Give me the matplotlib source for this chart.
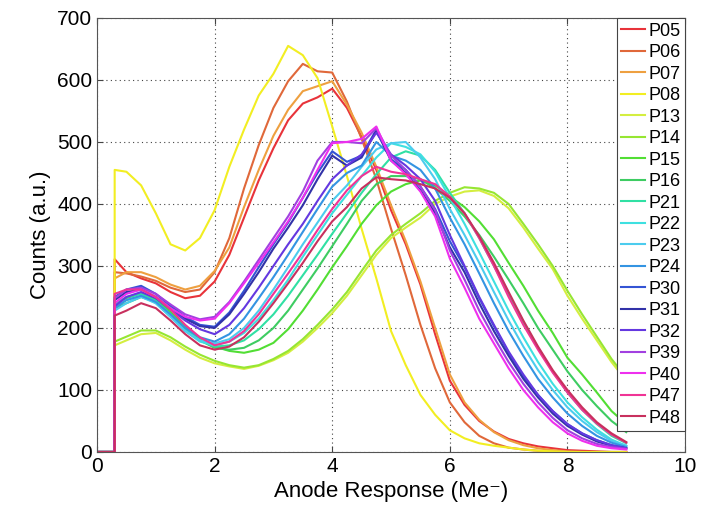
import matplotlib
matplotlib.use('Agg')
import matplotlib.pyplot as plt

# Общая сетка по оси X (Anode Response, Me-)
x_vals = [0.3, 0.5, 0.75, 1.0, 1.25, 1.5, 1.75, 2.0, 2.25, 2.5, 2.75, 3.0,
          3.25, 3.5, 3.75, 4.0, 4.25, 4.5, 4.75, 5.0, 5.25, 5.5, 5.75, 6.0,
          6.25, 6.5, 6.75, 7.0, 7.25, 7.5, 7.75, 8.0, 8.25, 8.5, 8.75, 9.0]

labels = ['P05', 'P06', 'P07', 'P08', 'P13', 'P14', 'P15', 'P16', 'P21', 'P22',
          'P23', 'P24', 'P30', 'P31', 'P32', 'P39', 'P40', 'P47', 'P48']

colors = ['#e8333a', '#e0683a', '#eea040', '#f2ee22', '#d4ee40', '#96e632',
          '#52de34', '#3ecc62', '#30e0a4', '#3ee0e0', '#4cccee', '#3494e2',
          '#3454d4', '#3232a8', '#6438e0', '#a240e0', '#ee30ee', '#f03496',
          '#c8305e']

p05 = [311, 290, 280, 272, 258, 248, 252, 275, 318, 378, 438, 490, 535, 562, 572, 586, 555, 508,
       455, 390, 335, 270, 190, 115, 76, 50, 33, 21, 14, 9, 6, 3, 2, 1, 0, 0]
p06 = [290, 288, 283, 276, 265, 258, 262, 290, 345, 425, 495, 555, 598, 626, 614, 612, 565, 505,
       440, 360, 285, 205, 135, 80, 48, 26, 14, 7, 4, 2, 1, 0, 0, 0, 0, 0]
p07 = [280, 290, 290, 282, 270, 262, 268, 292, 330, 395, 455, 510, 552, 582, 590, 598, 560, 515,
       460, 398, 340, 275, 200, 125, 80, 52, 32, 19, 11, 6, 3, 1, 0, 0, 0, 0]
p08 = [455, 452, 430, 385, 335, 325, 345, 390, 460, 520, 575, 610, 655, 640, 603, 525, 445, 360,
       280, 195, 140, 92, 60, 35, 22, 14, 10, 7, 4, 2, 1, 0, 0, 0, 0, 0]
p13 = [172, 180, 190, 192, 180, 165, 152, 143, 138, 134, 139, 148, 160, 178, 200, 224, 252, 285,
       318, 345, 362, 378, 400, 412, 420, 422, 413, 393, 362, 328, 295, 252, 215, 180, 145, 115]
p14 = [178, 186, 196, 196, 185, 170, 157, 147, 140, 136, 140, 150, 163, 182, 205, 230, 258, 292,
       325, 350, 368, 385, 405, 418, 427, 425, 418, 400, 368, 335, 300, 260, 222, 186, 150, 120]
p15 = [240, 248, 256, 246, 226, 202, 182, 170, 163, 160, 165, 176, 198, 228, 262, 298, 332, 368,
       398, 420, 432, 438, 430, 412, 395, 372, 343, 305, 268, 228, 192, 152, 125, 96, 66, 45]
p16 = [232, 240, 250, 242, 222, 198, 180, 168, 165, 168, 180, 200, 228, 262, 296, 332, 368, 405,
       432, 445, 445, 440, 425, 405, 380, 350, 315, 278, 240, 200, 165, 130, 100, 74, 50, 32]
p21 = [238, 250, 255, 244, 222, 198, 180, 170, 172, 180, 198, 222, 252, 285, 318, 352, 385, 418,
       448, 475, 485, 478, 455, 418, 385, 345, 300, 255, 210, 168, 130, 96, 68, 45, 26, 14]
p22 = [235, 245, 252, 240, 218, 195, 178, 172, 178, 192, 215, 245, 278, 315, 350, 385, 415, 445,
       475, 498, 492, 480, 452, 410, 368, 322, 275, 228, 185, 145, 110, 80, 56, 36, 20, 10]
p23 = [228, 240, 250, 240, 218, 195, 180, 175, 182, 200, 228, 262, 298, 335, 370, 405, 430, 460,
       488, 498, 500, 475, 440, 392, 350, 305, 258, 212, 170, 132, 100, 72, 50, 32, 18, 10]
p24 = [232, 245, 252, 242, 222, 200, 185, 178, 190, 215, 248, 282, 318, 355, 392, 428, 450, 462,
       500, 478, 470, 455, 425, 378, 335, 288, 240, 195, 155, 118, 88, 62, 42, 26, 15, 8]
p30 = [250, 262, 268, 255, 236, 218, 205, 202, 225, 260, 298, 335, 370, 410, 450, 485, 468, 478,
       520, 472, 455, 428, 392, 340, 298, 248, 203, 160, 122, 92, 66, 45, 30, 19, 11, 6]
p31 = [245, 258, 262, 250, 232, 215, 203, 200, 222, 255, 290, 328, 362, 398, 440, 478, 462, 475,
       518, 470, 450, 422, 385, 330, 290, 240, 195, 155, 118, 88, 62, 42, 28, 17, 10, 6]
p32 = [235, 250, 258, 248, 230, 212, 198, 190, 205, 232, 265, 300, 335, 368, 405, 440, 462, 480,
       515, 480, 462, 440, 405, 350, 300, 250, 205, 162, 125, 92, 66, 45, 30, 19, 11, 6]
p39 = [248, 262, 265, 255, 238, 222, 214, 218, 242, 275, 310, 345, 380, 420, 470, 500, 500, 498,
       522, 478, 455, 428, 390, 325, 278, 228, 185, 145, 110, 80, 55, 35, 22, 13, 8, 5]
p40 = [240, 255, 262, 250, 232, 218, 212, 215, 240, 272, 305, 338, 372, 410, 455, 498, 500, 505,
       525, 470, 448, 420, 380, 312, 265, 215, 175, 135, 100, 72, 48, 30, 18, 10, 6, 4]
p47 = [255, 262, 262, 250, 230, 205, 185, 172, 178, 195, 222, 255, 288, 322, 358, 392, 422, 445,
       460, 452, 448, 440, 432, 412, 385, 345, 300, 250, 205, 165, 128, 96, 68, 46, 28, 15]
p48 = [220, 228, 240, 232, 212, 190, 172, 165, 170, 185, 210, 240, 272, 305, 340, 372, 395, 425,
       443, 440, 438, 432, 425, 410, 385, 348, 305, 258, 212, 170, 132, 100, 72, 48, 30, 16]

series = [p05, p06, p07, p08, p13, p14, p15, p16, p21, p22,
          p23, p24, p30, p31, p32, p39, p40, p47, p48]

plt.rcParams['font.family'] = ['Liberation Sans', 'DejaVu Sans']

fig = plt.figure(figsize=(7.15, 5.11), dpi=100)
ax = fig.add_axes([0.1357, 0.1155, 0.8224, 0.8493])

# Каждая кривая начинается с нуля до порога 0.3
for name, col, vals in zip(labels, colors, series):
    xs = [0.0, x_vals[0]] + x_vals
    ys = [0, 0] + vals
    ax.plot(xs, ys, color=col, lw=1.5, label=name)

ax.set_xlim(0, 10)
ax.set_ylim(0, 700)
ax.set_xticks(range(0, 11, 2))
ax.set_yticks(range(0, 701, 100))
ax.tick_params(direction='in', top=True, right=True, labelsize=15, length=4, color='#444444')
for sp in ax.spines.values():
    sp.set_color('#555555')
ax.grid(True, linestyle=(0, (1, 3)), color='#444444', lw=0.8)

ax.set_xlabel('Anode Response (Me\u207b)', fontsize=16)
ax.set_ylabel('Counts (a.u.)', fontsize=16)

leg = ax.legend(loc='upper right', fontsize=13, handlelength=1.3, handletextpad=0.2,
                labelspacing=0.25, borderpad=0.25, borderaxespad=0.0, fancybox=False,
                framealpha=1.0, edgecolor='#444444')
leg.get_frame().set_linewidth(0.8)

plt.savefig('out.png', dpi=100)
